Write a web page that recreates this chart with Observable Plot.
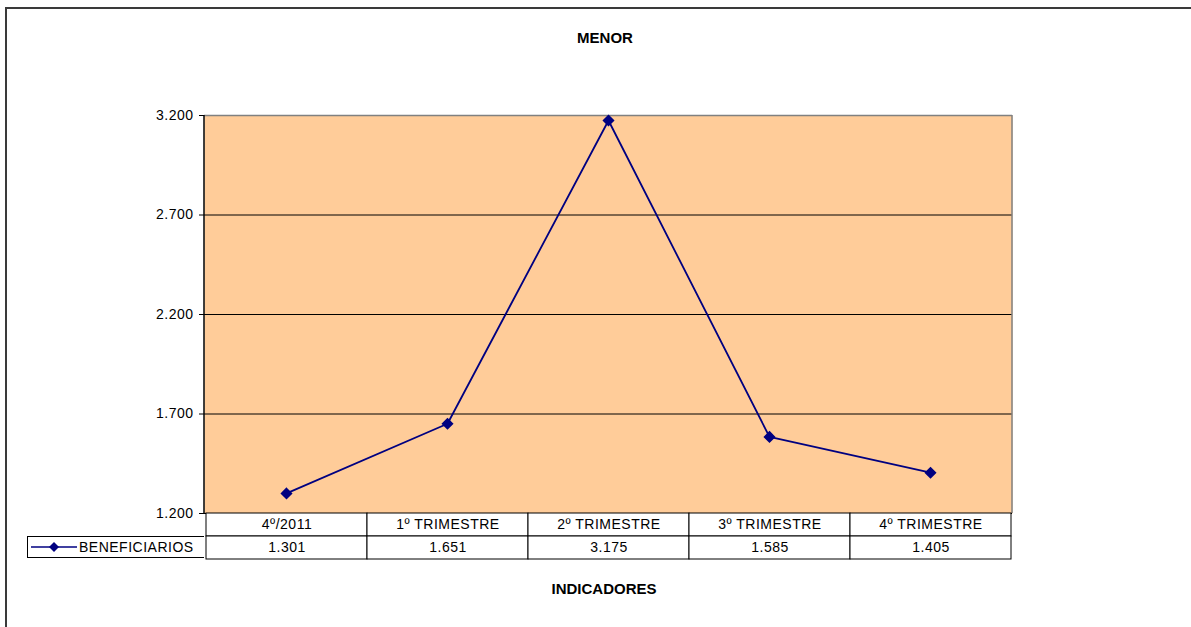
<!DOCTYPE html>
<html>
<head>
<meta charset="utf-8">
<script src="https://cdn.jsdelivr.net/npm/d3@7"></script>
<script src="https://cdn.jsdelivr.net/npm/@observablehq/plot@0.6"></script>
<style>
  html, body { margin: 0; padding: 0; background: #fff; }
  #wrap { position: relative; width: 1191px; height: 627px; overflow: hidden; font-family: "Liberation Sans", Arial, sans-serif; }
  #border { position: absolute; left: 5px; top: 7px; width: 1190px; height: 640px; border-left: 2px solid #3a3a3a; border-top: 2px solid #3a3a3a; box-sizing: border-box; }
  .lbl { position: absolute; font-weight: bold; font-size: 15px; color: #000; text-align: center; }
  #main, #table { position: absolute; left: 0; }
  #main { top: 0; }
  #legend { position: absolute; left: 27px; top: 536px; width: 177px; height: 22px; border: 1px solid #000; border-right: none; box-sizing: border-box; display: flex; align-items: center; font-size: 14px; letter-spacing: 0.5px; color: #000; background: #fff; }
  svg text { letter-spacing: 0.5px; }
</style>
</head>
<body>
<div id="wrap">
  <div id="border"></div>
  <div class="lbl" style="left:0;width:1210px;top:29px;">MENOR</div>
  <div id="main"></div>
  <div id="table"></div>
  <div id="legend"></div>
  <div class="lbl" style="left:0;width:1208px;top:580px;">INDICADORES</div>
</div>
<script>
const categories = ["4º/2011", "1º TRIMESTRE", "2º TRIMESTRE", "3º TRIMESTRE", "4º TRIMESTRE"];
const beneficiarios = [1301, 1651, 3175, 1585, 1405];
const yTicks = [1200, 1700, 2200, 2700, 3200];
const seriesName = "BENEFICIARIOS";

const locale = d3.formatLocale({decimal: ",", thousands: ".", grouping: [3], currency: ["", ""]});
const fmt = locale.format(",d");

const data = categories.map((c, i) => ({cat: c, value: beneficiarios[i]}));

const W = 1191, H = 627;
const mL = 204, mR = 179, mT = 115, mB = 114;
const navy = "#000080";
const font = "'Liberation Sans', Arial, sans-serif";

const main = Plot.plot({
  width: W, height: H,
  marginLeft: mL, marginRight: mR, marginTop: mT, marginBottom: mB,
  style: {fontFamily: font, fontSize: "14px", color: "#000", background: "transparent"},
  x: {type: "point", domain: categories, padding: 0.5, axis: null},
  y: {domain: [1200, 3200], ticks: yTicks, tickFormat: fmt},
  marks: [
    Plot.frame({fill: "#FFCC99", stroke: null}),
    Plot.ruleY(yTicks.slice(1, -1), {stroke: "#000", strokeWidth: 1}),
    Plot.ruleY([3200], {stroke: "#808080", strokeWidth: 1.5}),
    Plot.axisY({ticks: yTicks, tickFormat: fmt, tickSize: 5, tickPadding: 6, fontSize: 14, label: null, stroke: "#000"}),
    Plot.ruleY([1200], {stroke: "#000", strokeWidth: 1}),
    Plot.line(data, {x: "cat", y: "value", stroke: navy, strokeWidth: 1.8}),
    Plot.dot(data, {x: "cat", y: "value", symbol: "diamond2", r: 4.5, fill: navy, stroke: navy})
  ]
});
// frame sides: left dark, right gray
const svgMain = d3.select(main);
const frameLeft = mL, frameRight = W - mR;
svgMain.append("line").attr("x1", frameLeft).attr("x2", frameLeft).attr("y1", mT).attr("y2", H - mB).attr("stroke", "#000").attr("stroke-width", 1.5);
svgMain.append("line").attr("x1", frameRight).attr("x2", frameRight).attr("y1", mT).attr("y2", H - mB).attr("stroke", "#808080").attr("stroke-width", 1.5);
document.getElementById("main").appendChild(main);

// data table below the plot, sharing the x layout
const rows = ["cat", "val"];
const tableData = [];
categories.forEach((c, i) => {
  tableData.push({cat: c, row: "cat", text: c});
  tableData.push({cat: c, row: "val", text: fmt(beneficiarios[i])});
});
const table = Plot.plot({
  width: W, height: 46,
  marginLeft: mL, marginRight: mR, marginTop: 0, marginBottom: 0,
  style: {fontFamily: font, fontSize: "14px", color: "#000", background: "transparent", overflow: "visible"},
  x: {type: "band", domain: categories, padding: 0, axis: null},
  y: {type: "band", domain: rows, padding: 0, axis: null},
  marks: [
    Plot.cell(tableData, {x: "cat", y: "row", fill: "#fff", stroke: "#000", strokeWidth: 1}),
    Plot.text(tableData, {x: "cat", y: "row", text: "text", fill: "#000", fontSize: 14})
  ]
});
const tbl = document.getElementById("table");
tbl.style.top = (H - mB) + "px";
tbl.appendChild(table);

// legend cell
const leg = d3.select("#legend");
const ls = leg.append("svg").attr("width", 50).attr("height", 20).style("flex", "none");
ls.append("line").attr("x1", 3).attr("x2", 49).attr("y1", 10).attr("y2", 10).attr("stroke", navy).attr("stroke-width", 1.6);
ls.append("path").attr("d", d3.symbol(d3.symbolDiamond2, 64)()).attr("transform", "translate(26,10)").attr("fill", navy);
leg.append("span").text(seriesName).style("margin-left", "1px");
</script>
</body>
</html>
